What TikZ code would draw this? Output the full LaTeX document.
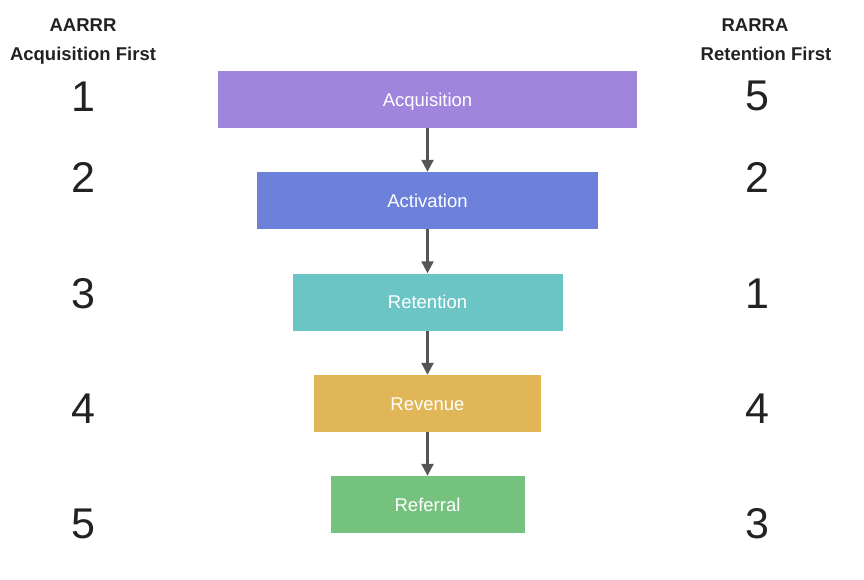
\documentclass[tikz,border=0pt]{standalone}
\usepackage{fontspec}
\setmainfont{Liberation Sans}
\usetikzlibrary{arrows.meta}
\definecolor{cacq}{HTML}{A085DD}
\definecolor{cact}{HTML}{6D81DB}
\definecolor{cret}{HTML}{6BC5C5}
\definecolor{crev}{HTML}{E0B657}
\definecolor{cref}{HTML}{75C27F}
\definecolor{arr}{HTML}{555555}
\definecolor{txt}{HTML}{222222}
\tikzset{
  stagebox/.style={fill=#1, draw=none, text=white, minimum height=57pt, inner sep=0pt,
    font=\fontsize{18.5}{20}\selectfont, text height=13.3pt, text depth=0pt},
  numlabel/.style={anchor=base, inner sep=0pt, text=txt, font=\fontsize{43}{46}\selectfont},
  headlabel/.style={anchor=base, inner sep=0pt, text=txt, font=\fontsize{18.5}{20}\selectfont\bfseries},
  flowarrow/.style={draw=arr, line width=2.4pt, -{Triangle[length=12pt,width=12pt]}}
}
\begin{document}
\begin{tikzpicture}[x=1pt,y=-1pt]
\useasboundingbox (0,0) rectangle (864,580);
% headers
\node[headlabel] (hl1) at (83,31.5) {AARRR};
\node[headlabel] (hl2) at (83,61) {Acquisition First};
\node[headlabel] (hr1) at (755,31.5) {RARRA};
\node[headlabel] (hr2) at (766,61) {Retention First};
% boxes
\node[stagebox=cacq, minimum width=419pt] (acq) at (427.5,99.5) {Acquisition};
\node[stagebox=cact, minimum width=341pt] (act) at (427.5,200.5) {Activation};
\node[stagebox=cret, minimum width=270pt] (ret) at (427.5,302) {Retention};
\node[stagebox=crev, minimum width=227pt] (rev) at (427.5,403.5) {Revenue};
\node[stagebox=cref, minimum width=194pt] (ref) at (427.5,504.5) {Referral};
% arrows
\draw[flowarrow] (acq.south) -- (act.north);
\draw[flowarrow] (act.south) -- (ret.north);
\draw[flowarrow] (ret.south) -- (rev.north);
\draw[flowarrow] (rev.south) -- (ref.north);
% left numbers
\node[numlabel] (l1) at (83,111.5) {1};
\node[numlabel] (l2) at (83,193) {2};
\node[numlabel] (l3) at (83,308) {3};
\node[numlabel] (l4) at (83,423) {4};
\node[numlabel] (l5) at (83,538) {5};
% right numbers
\node[numlabel] (r1) at (757.5,111) {5};
\node[numlabel] (r2) at (757.5,193) {2};
\node[numlabel] (r3) at (757.5,308) {1};
\node[numlabel] (r4) at (757.5,423) {4};
\node[numlabel] (r5) at (757.5,538) {3};
\end{tikzpicture}
\end{document}
